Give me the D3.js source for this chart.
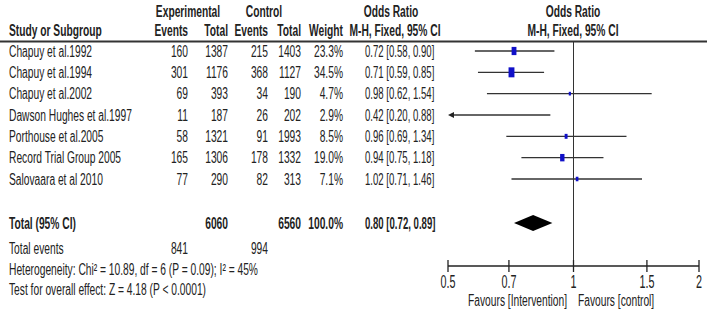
<!DOCTYPE html>
<html><head><meta charset="utf-8">
<script src="https://cdn.jsdelivr.net/npm/d3@7"></script>
<style>
html,body{margin:0;padding:0;background:#fff;}
svg{display:block;}
text{font-family:"Liberation Sans Narrow","Arial Narrow","Liberation Sans",Arial,sans-serif;fill:#222;}
</style></head>
<body>
<script>
const studies = ["Chapuy et al.1992","Chapuy et al.1994","Chapuy et al.2002","Dawson Hughes et al.1997","Porthouse et al.2005","Record Trial Group 2005","Salovaara et al 2010"];
const expEvents = [160,301,69,11,58,165,77];
const expTotal = [1387,1176,393,187,1321,1306,290];
const ctlEvents = [215,368,34,26,91,178,82];
const ctlTotal = [1403,1127,190,202,1993,1332,313];
const weights = [23.3,34.5,4.7,2.9,8.5,19.0,7.1];
const orVal = [0.72,0.71,0.98,0.42,0.96,0.94,1.02];
const orLo = [0.58,0.59,0.62,0.20,0.69,0.75,0.71];
const orHi = [0.90,0.85,1.54,0.88,1.34,1.18,1.46];
const total = {expTotal:6060, ctlTotal:6560, weight:"100.0%", or:0.80, lo:0.72, hi:0.89, expEvents:841, ctlEvents:994};
const heterogeneity = "Heterogeneity: Chi\u00B2 = 10.89, df = 6 (P = 0.09); I\u00B2 = 45%";
const overall = "Test for overall effect: Z = 4.18 (P < 0.0001)";
const ticks = [0.5,0.7,1,1.5,2];
const tickLabels = ["0.5","0.7","1","1.5","2"];

const W=709,H=313;
const svg=d3.select("body").append("svg").attr("width",W).attr("height",H);
const SX=0.64;
function txt(x,y,s,anchor,opt){
  opt=opt||{};
  const fs=opt.fs||16;
  return svg.append("text")
    .attr("transform",`translate(${x},${y+fs*0.35}) scale(${opt.sx||SX},1)`)
    .attr("text-anchor",anchor||"start")
    .attr("font-size",fs)
    .attr("font-weight",opt.bold?"bold":"normal")
    .text(s);
}
const fmt2=d3.format(".2f");
const x=d3.scaleLog().domain([0.5,2]).range([448,699]);
const y=d3.scaleLinear().domain([0,6]).range([51,179]);

// headers
txt(188,11,"Experimental","middle",{bold:true});
txt(264,11,"Control","middle",{bold:true});
txt(391,11,"Odds Ratio","middle",{bold:true});
txt(573,11,"Odds Ratio","middle",{bold:true});
txt(9,30,"Study or Subgroup","start",{bold:true});
txt(188,30,"Events","end",{bold:true});
txt(228,30,"Total","end",{bold:true});
txt(268,30,"Events","end",{bold:true});
txt(301,30,"Total","end",{bold:true});
txt(343,30,"Weight","end",{bold:true});
txt(395,30,"M-H, Fixed, 95% CI","middle",{bold:true});
txt(573,30,"M-H, Fixed, 95% CI","middle",{bold:true});
svg.append("line").attr("x1",0).attr("x2",707).attr("y1",41.5).attr("y2",41.5).attr("stroke","#333").attr("stroke-width",2);

// rows
studies.forEach((s,i)=>{
  const yy=y(i);
  txt(9,yy,s,"start");
  txt(188,yy,expEvents[i],"end");
  txt(228,yy,expTotal[i],"end");
  txt(268,yy,ctlEvents[i],"end");
  txt(301,yy,ctlTotal[i],"end");
  txt(343,yy,weights[i].toFixed(1)+"%","end");
  txt(365,yy,`${fmt2(orVal[i])} [${fmt2(orLo[i])}, ${fmt2(orHi[i])}]`,"start",{sx:0.6});
});

// vertical line at 1
svg.append("line").attr("x1",x(1)).attr("x2",x(1)).attr("y1",42).attr("y2",266).attr("stroke","#333").attr("stroke-width",1);

// CI lines and squares
studies.forEach((s,i)=>{
  const yy=y(i);
  const lo=Math.max(orLo[i],0.5);
  const x0=x(lo)+(orLo[i]<0.5?3:0);
  svg.append("line").attr("x1",x0).attr("x2",x(Math.min(orHi[i],2))).attr("y1",yy).attr("y2",yy).attr("stroke","#333").attr("stroke-width",1.3);
  if(orLo[i]<0.5){
    svg.append("path").attr("d",`M${x(0.5)},${yy} L${x(0.5)+6},${yy-3} L${x(0.5)+6},${yy+3} Z`).attr("fill","#222");
  }
  if(orVal[i]>=0.5){
    const side=Math.sqrt(weights[i]);
    const w=side*1.0,h=side*1.7;
    svg.append("rect").attr("x",x(orVal[i])-w/2).attr("y",yy-h/2).attr("width",w).attr("height",h).attr("fill","#1010c8");
  }
});

// total row
const ty=223;
txt(9,ty,"Total (95% CI)","start",{bold:true});
txt(228,ty,total.expTotal,"end",{bold:true});
txt(301,ty,total.ctlTotal,"end",{bold:true});
txt(343,ty,total.weight,"end",{bold:true});
txt(365,ty,`${fmt2(total.or)} [${fmt2(total.lo)}, ${fmt2(total.hi)}]`,"start",{bold:true,sx:0.6});
svg.append("path").attr("d",`M${x(total.lo)},${ty} L${x(total.or)},${ty-8} L${x(total.hi)},${ty} L${x(total.or)},${ty+8} Z`).attr("fill","#000");

txt(9,248,"Total events","start");
txt(188,248,total.expEvents,"end");
txt(268,248,total.ctlEvents,"end");
txt(9,269,heterogeneity,"start");
txt(9,289,overall,"start");

// axis
const axisY=266;
svg.append("line").attr("x1",x(0.5)).attr("x2",x(2)).attr("y1",axisY).attr("y2",axisY).attr("stroke","#222").attr("stroke-width",1.3);
ticks.forEach((t,i)=>{
  svg.append("line").attr("x1",x(t)).attr("x2",x(t)).attr("y1",axisY-6).attr("y2",axisY+6).attr("stroke","#222").attr("stroke-width",1.3);
  txt(x(t),282,tickLabels[i],"middle",{fs:18,sx:0.6});
});
txt(567,300,"Favours [Intervention]","end");
txt(578,300,"Favours [control]","start");
</script>
</body></html>
